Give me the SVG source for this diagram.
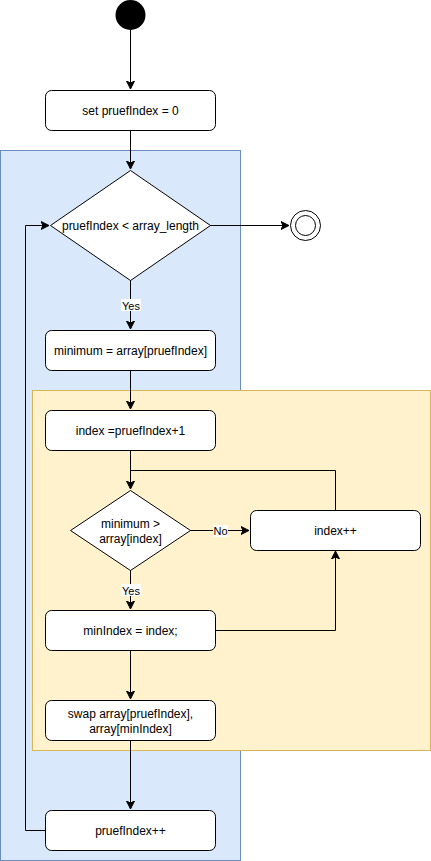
<svg xmlns="http://www.w3.org/2000/svg" width="431" height="861" viewBox="0 0 431 861">
<style>
.box{fill:#fff;stroke:#000;stroke-width:1}
.t{font-family:"Liberation Sans",Arial,sans-serif;font-size:12px;fill:#000;text-anchor:middle}
.l{font-family:"Liberation Sans",Arial,sans-serif;font-size:11px;fill:#000;text-anchor:middle}
.e{fill:none;stroke:#000;stroke-width:1}
.lbl{fill:#fff}
</style>
<defs>
<marker id="a" markerUnits="userSpaceOnUse" markerWidth="10" markerHeight="10" refX="8" refY="4" orient="auto" viewBox="0 0 10 8">
<path d="M0,0 L8,4 L0,8 L2,4 Z" fill="#000" stroke="#000" stroke-width="1"/>
</marker>
</defs>
<g id="container-outer"><rect x="0.5" y="150.5" width="240" height="710" fill="#dae8fc" stroke="#6c8ebf"/></g>
<g id="container-inner"><rect x="32.5" y="390.5" width="398" height="360" fill="#fff2cc" stroke="#d6b656"/></g>
<g id="connectors">
<path class="e" d="M130.5,30 V89" marker-end="url(#a)"/>
<path class="e" d="M130.5,130 V169" marker-end="url(#a)"/>
<path class="e" d="M210,225.5 H289" marker-end="url(#a)"/>
<path class="e" d="M130.5,280 V329" marker-end="url(#a)"/>
<path class="e" d="M130.5,370 V409" marker-end="url(#a)"/>
<path class="e" d="M130.5,450 V489" marker-end="url(#a)"/>
<path class="e" d="M335.5,510 V470.5 H130.5"/>
<path class="e" d="M190,530.5 H249" marker-end="url(#a)"/>
<path class="e" d="M130.5,570 V609" marker-end="url(#a)"/>
<path class="e" d="M215,630.5 H335.5 V551" marker-end="url(#a)"/>
<path class="e" d="M130.5,650 V699" marker-end="url(#a)"/>
<path class="e" d="M130.5,740 V809" marker-end="url(#a)"/>
<path class="e" d="M45,830.5 H25.5 V225.5 H49" marker-end="url(#a)"/>
<rect class="lbl" x="121" y="299" width="20" height="12"/>
<text class="l" x="131" y="309.5">Yes</text>
<rect class="lbl" x="213" y="525" width="15" height="12"/>
<text class="l" x="220.5" y="535">No</text>
<rect class="lbl" x="121" y="584" width="20" height="12"/>
<text class="l" x="131" y="594.5">Yes</text>
</g>
<g id="start"><circle cx="130.5" cy="15" r="15" fill="#000"/></g>
<g id="init"><rect class="box" x="45.5" y="90.5" width="170" height="40" rx="6"/><text class="t" x="130.5" y="115">set pruefIndex = 0</text></g>
<g id="cond1"><path class="box" d="M130.5,170.5 L210.5,225.5 L130.5,280.5 L50.5,225.5 Z"/><text class="t" x="130.5" y="230">pruefIndex &lt; array_length</text></g>
<g id="end"><circle cx="305.5" cy="225.5" r="15" fill="#fff" stroke="#000"/><circle cx="305.5" cy="225.5" r="10" fill="#fff" stroke="#000"/></g>
<g id="minimum"><rect class="box" x="45.5" y="330.5" width="170" height="40" rx="6"/><text class="t" x="130.5" y="355">minimum = array[pruefIndex]</text></g>
<g id="index"><rect class="box" x="45.5" y="410.5" width="170" height="40" rx="6"/><text class="t" x="130.5" y="435">index =pruefIndex+1</text></g>
<g id="cond2"><path class="box" d="M130.5,490.5 L190.5,530.5 L130.5,570.5 L70.5,530.5 Z"/><text class="t" x="130.5" y="528">minimum &gt;</text><text class="t" x="130.5" y="543">array[index]</text></g>
<g id="indexinc"><rect class="box" x="250.5" y="510.5" width="170" height="40" rx="6"/><text class="t" x="335.5" y="535">index++</text></g>
<g id="minindex"><rect class="box" x="45.5" y="610.5" width="170" height="40" rx="6"/><text class="t" x="130.5" y="635">minIndex = index;</text></g>
<g id="swap"><rect class="box" x="45.5" y="700.5" width="170" height="40" rx="6"/><text class="t" x="130.5" y="718">swap array[pruefIndex],</text><text class="t" x="130.5" y="733">array[minIndex]</text></g>
<g id="pruefinc"><rect class="box" x="45.5" y="810.5" width="170" height="40" rx="6"/><text class="t" x="130.5" y="835">pruefIndex++</text></g>
</svg>
